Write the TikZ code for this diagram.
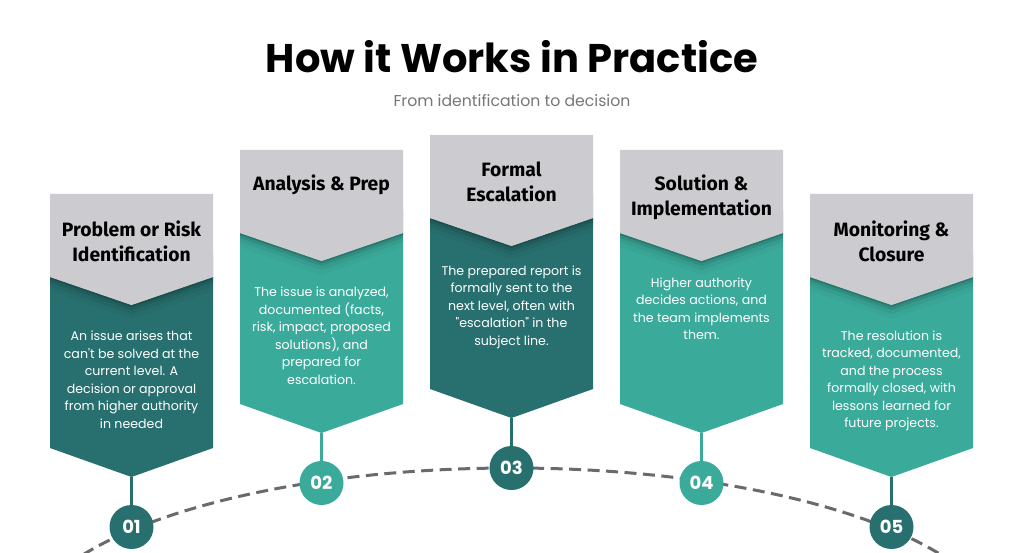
\documentclass[tikz,border=0pt]{standalone}
\usepackage{fontspec}
\setmainfont{Poppins}
\newfontfamily\headfont{Fira Sans}
\definecolor{dteal}{HTML}{27706F}
\definecolor{lteal}{HTML}{3AAB9B}
\definecolor{hgray}{HTML}{CBCBD0}
\definecolor{arcgray}{HTML}{6A6A6A}
\definecolor{subgray}{HTML}{777777}
\tikzset{
  headtext/.style={align=center,text=black,font=\headfont\bfseries\fontsize{19.3}{25}\selectfont,inner sep=0},
  bodytext/.style={align=center,text=white,font=\fontsize{12.6}{17.5}\selectfont,inner sep=0},
  numc/.style={circle,minimum size=44pt,inner sep=0,text=white,font=\bfseries\fontsize{18}{20}\selectfont},
  link/.style={line width=2.3pt},
}
\newcommand\mystage[9]{%
  % #1 id, #2 cx, #3 top, #4 body colour, #5 circle colour, #6 head y, #7 head, #8 body y, #9 body text
  \fill[#4] (#2-81.5,#3+83) -- (#2,#3+111) -- (#2+81.5,#3+83) -- (#2+81.5,#3+254) -- (#2,#3+283) -- (#2-81.5,#3+254) -- cycle;
  \foreach \d/\o in {2/0.14,5/0.09,9/0.05,14/0.03}{
    \fill[black,opacity=\o] (#2-81.5,#3+60) -- (#2+81.5,#3+60) -- (#2+81.5,#3+83+\d) -- (#2,#3+111+\d) -- (#2-81.5,#3+83+\d) -- cycle;
  }
  \fill[hgray] (#2-81.5,#3) -- (#2+81.5,#3) -- (#2+81.5,#3+83) -- (#2,#3+111) -- (#2-81.5,#3+83) -- cycle;
  \node[headtext] (h#1) at (#2,#6) {#7};
  \node[bodytext] (b#1) at (#2,#8) {#9};
  \coordinate (t#1) at (#2,#3+283);
}
\begin{document}
\begin{tikzpicture}[x=1pt,y=-1pt]
\useasboundingbox (0,0) rectangle (1024,553);
\fill[white] (0,0) rectangle (1024,553);
\node (title) at (512,57) {\bfseries\fontsize{40}{48}\selectfont How it Works in Practice};
\node[text=subgray] (sub) at (512,101) {\fontsize{15.7}{19}\selectfont From identification to decision};
\begin{scope}
\clip (0,0) rectangle (1024,553);
\draw[arcgray,line width=3pt,dash pattern=on 12pt off 6.5pt] (512,636) ellipse [x radius=490, y radius=168];
\end{scope}
\mystage{1}{131.5}{194}{dteal}{dteal}{241}{Problem or Risk\\Identification}{380}{An issue arises that\\can\textquotesingle t be solved at the\\current level. A\\decision or approval\\from higher authority\\in needed}
\mystage{2}{321.5}{150}{lteal}{lteal}{185}{Analysis \& Prep}{336}{The issue is analyzed,\\documented (facts,\\risk, impact, proposed\\solutions), and\\prepared for\\escalation.}
\mystage{3}{511.5}{135}{dteal}{dteal}{181.5}{Formal\\Escalation}{307}{The prepared report is\\formally sent to the\\next level, often with\\\textquotedbl escalation\textquotedbl{} in the\\subject line.}
\mystage{4}{701.5}{150}{lteal}{lteal}{197.5}{Solution \&\\Implementation}{309}{Higher authority\\decides actions, and\\the team implements\\them.}
\mystage{5}{891.5}{194}{lteal}{dteal}{241}{Monitoring \&\\Closure}{381}{The resolution is\\tracked, documented,\\and the process\\formally closed, with\\lessons learned for\\future projects.}
\node[numc,fill=dteal] (n1) at (131.5,527) {01};
\node[numc,fill=lteal] (n2) at (321.5,483) {02};
\node[numc,fill=dteal] (n3) at (511.5,468) {03};
\node[numc,fill=lteal] (n4) at (701.5,483) {04};
\node[numc,fill=dteal] (n5) at (891.5,527) {05};
\draw[link,dteal] (t1) -- (n1);
\draw[link,lteal] (t2) -- (n2);
\draw[link,dteal] (t3) -- (n3);
\draw[link,lteal] (t4) -- (n4);
\draw[link,dteal] (t5) -- (n5);
\end{tikzpicture}
\end{document}
